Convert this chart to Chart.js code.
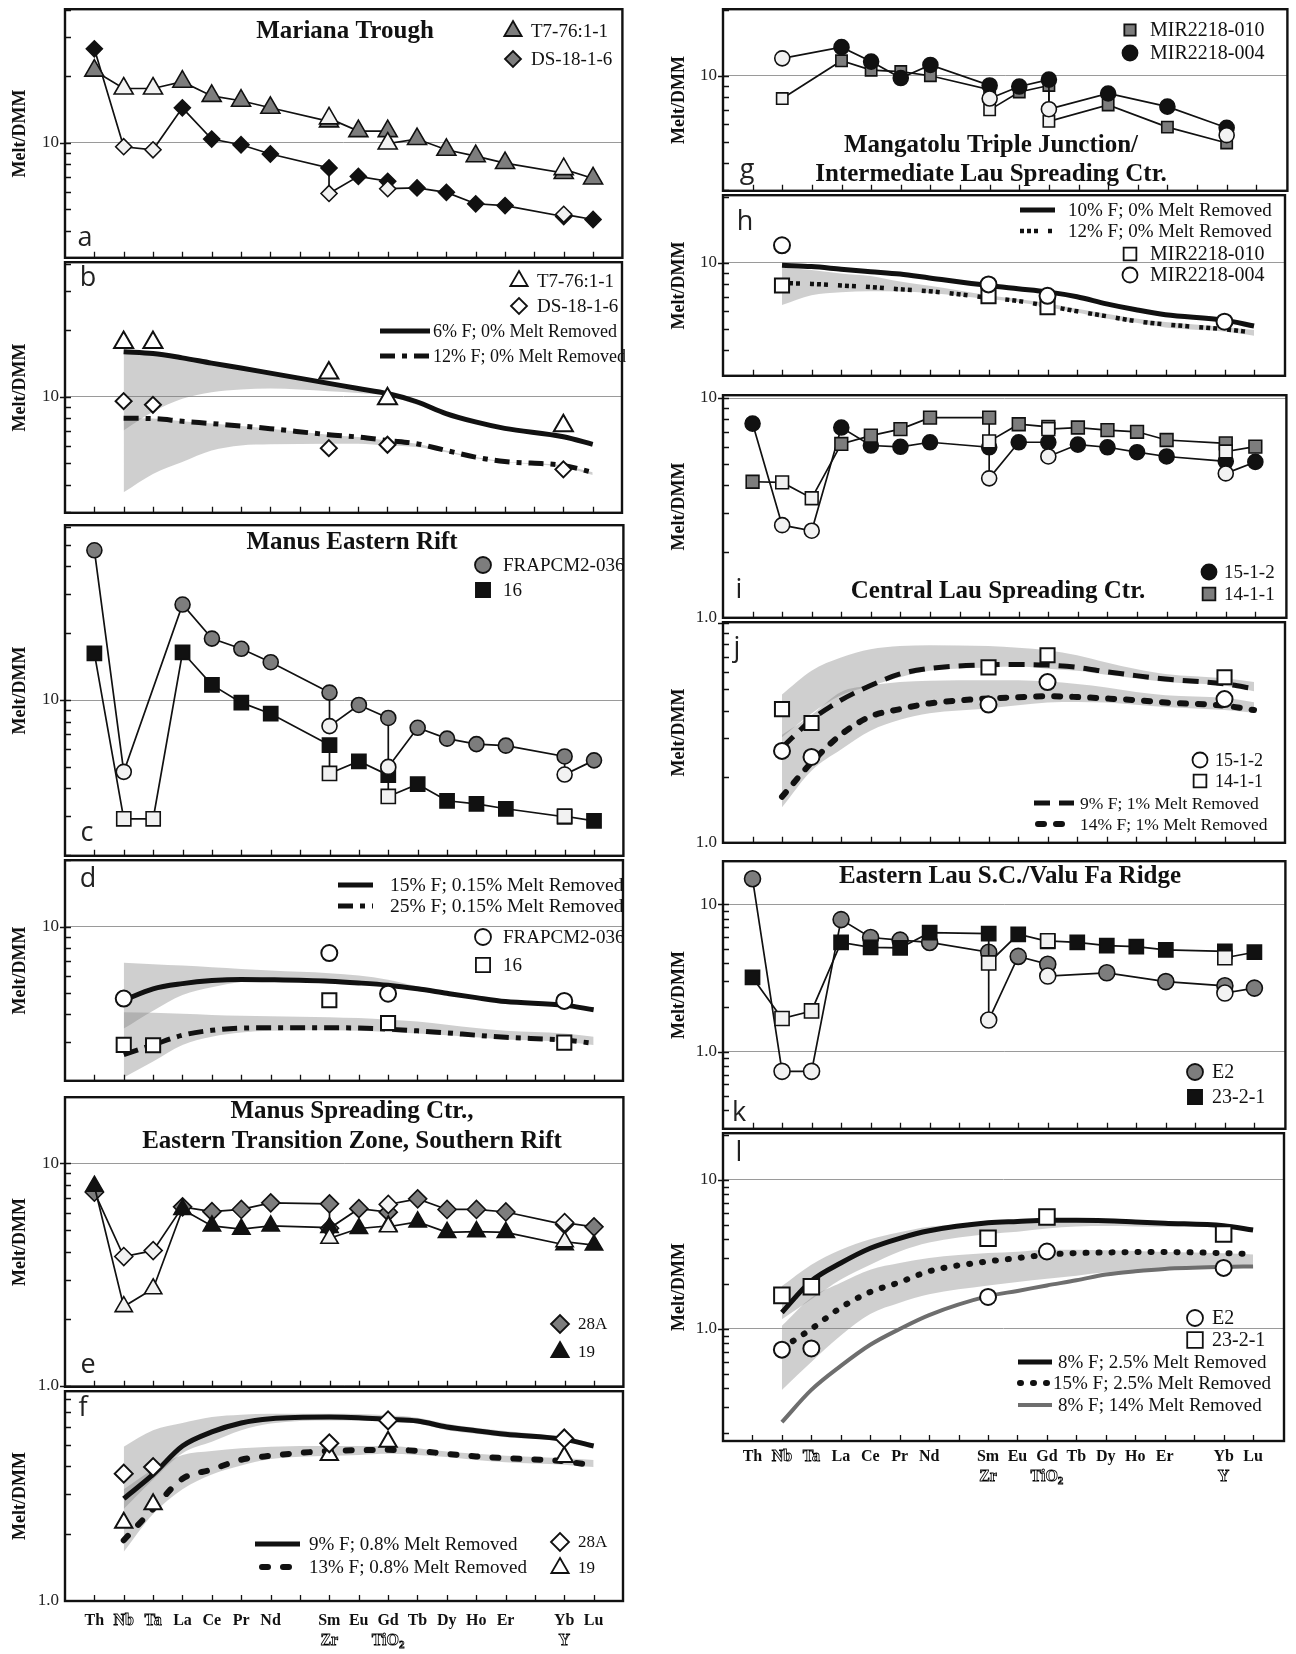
<!DOCTYPE html>
<html>
<head>
<meta charset="utf-8">
<script src="https://cdn.jsdelivr.net/npm/chart.js@4.4.1/dist/chart.umd.min.js"></script>
<style>
  html, body { margin: 0; padding: 0; background: #fff; }
  #page { position: relative; width: 1296px; height: 1654px; overflow: hidden; }
  #page canvas { position: absolute; }
</style>
</head>
<body>
<div id="page"></div>
<script>
// Axis categories (blank = spacer position)
const xCategories = ["Th","Nb","Ta","La","Ce","Pr","Nd","","Sm","Eu","Gd","Tb","Dy","Ho","Er","","Yb","Lu"];
const xSecondRow = { Sm: "Zr", Gd: "TiO2", Yb: "Y" };
const substituted = ["Nb","Ta","Zr","TiO2","Y"];

// Key orders used by the value arrays below
const sampleKeys = ["Th","Nb","Ta","La","Ce","Pr","Nd","Sm","Zr","Eu","Gd","TiO2","Tb","Dy","Ho","Er","Yb","Y","Lu"];
const modelKeys = ["Nb","Ta","La","Ce","Pr","Nd","Sm","Eu","Gd","Tb","Dy","Ho","Er","Yb","Lu"];
const subKeys = ["Nb","Ta","Zr","TiO2","Y"];

// a - Mariana Trough
const a_T7 = [21.2, 17.6, 17.6, 18.9, 16.3, 15.5, 14.4, 12.5, 12.9, 11.3, 11.3, 9.93, 10.4, 9.3, 8.7, 8.1, 7.3, 7.6, 6.9];
const a_DS = [26.6, 9.6, 9.3, 14.4, 10.4, 9.8, 8.9, 7.7, 5.9, 7.05, 6.7, 6.2, 6.25, 5.97, 5.3, 5.2, 4.64, 4.75, 4.5];
// b
const b_T7 = [17.6, 17.6, 12.8, 9.8, 7.4];
const b_DS = [9.56, 9.2, 5.86, 6.07, 4.7];
const b_F6 = [16.0, 15.7, 15.0, 14.2, 13.5, 12.8, 11.5, 10.9, 10.35, 9.5, 8.4, 7.7, 7.2, 6.6, 6.1];
const b_F12 = [8.0, 7.97, 7.75, 7.57, 7.38, 7.18, 6.74, 6.58, 6.35, 6.14, 5.72, 5.34, 5.1, 4.89, 4.56];
const b_band6Hi = [16.0, 15.7, 15.0, 14.2, 13.5, 12.8, 11.5, 10.9, 10.35, 9.5, 8.4, 7.7, 7.2, 6.6, 6.1];
const b_band6Lo = [7.05, 8.55, 9.8, 10.5, 10.8, 10.9, 10.6, 10.4, 10.1, 9.2, 8.26, 7.6, 7.1, 6.47, 6.0];
const b_band12Hi = [8.0, 7.97, 7.75, 7.57, 7.38, 7.18, 6.74, 6.58, 6.35, 6.14, 5.72, 5.34, 5.1, 4.89, 4.56];
const b_band12Lo = [3.7, 4.48, 5.07, 5.72, 6.03, 6.1, 6.14, 6.14, 6.03, 5.93, 5.62, 5.28, 5.07, 4.8, 4.43];
// c - Manus Eastern Rift
const c_FRAP = [47.2, 4.75, null, 26.9, 18.9, 17.0, 14.8, 10.8, 7.63, 9.5, 8.3, 5.0, 7.5, 6.7, 6.33, 6.23, 5.57, 4.62, 5.35];
const c_16 = [16.2, 2.92, 2.92, 16.4, 11.7, 9.73, 8.68, 6.27, 4.67, 5.3, 4.59, 3.68, 4.18, 3.52, 3.41, 3.24, 2.98, 3.0, 2.86];
// d
const d_FRAP = [4.72, null, 7.6, 4.97, 4.61];
const d_16 = [2.91, 2.9, 4.64, 3.66, 2.98];
const d_F15 = [4.64, 5.23, 5.52, 5.7, 5.77, 5.75, 5.66, 5.56, 5.43, 5.23, 4.99, 4.77, 4.58, 4.41, 4.2];
const d_F25 = [2.63, 2.91, 3.22, 3.39, 3.47, 3.48, 3.48, 3.47, 3.43, 3.37, 3.3, 3.22, 3.15, 3.06, 2.96];
const d_band15Hi = [6.87, 6.76, 6.67, 6.55, 6.44, 6.33, 6.16, 6.01, 5.75, 5.37, 5.07, 4.84, 4.65, 4.46, 4.28];
const d_band15Lo = [3.45, 4.16, 4.9, 5.32, 5.62, 5.69, 5.62, 5.5, 5.37, 5.18, 4.93, 4.72, 4.53, 4.37, 4.16];
const d_band25Hi = [4.09, 4.07, 4.03, 3.98, 3.95, 3.93, 3.89, 3.85, 3.79, 3.72, 3.59, 3.47, 3.37, 3.28, 3.17];
const d_band25Lo = [2.07, 2.45, 2.91, 3.17, 3.31, 3.37, 3.39, 3.37, 3.33, 3.28, 3.22, 3.15, 3.08, 3.01, 2.91];
// e - Manus Spreading Ctr.
const e_28A = [7.41, 3.81, 4.05, 6.37, 6.06, 6.2, 6.64, 6.57, 5.1, 6.25, 6.03, 6.53, 6.92, 6.2, 6.2, 6.04, 5.3, 5.41, 5.18];
const e_19 = [7.88, 2.27, 2.73, 6.2, 5.23, 5.06, 5.23, 5.14, 4.6, 5.09, 5.23, 5.18, 5.45, 4.89, 4.93, 4.89, 4.3, 4.44, 4.29];
// f
const f_28A = [3.71, 3.97, 5.07, 6.42, 5.33];
const f_19 = [2.24, 2.71, 4.5, 5.15, 4.4];
const f_F9 = [2.87, 3.68, 4.93, 5.7, 6.25, 6.53, 6.64, 6.6, 6.49, 6.38, 6.0, 5.77, 5.57, 5.28, 4.93];
const f_F13 = [1.87, 2.58, 3.52, 3.87, 4.28, 4.46, 4.69, 4.72, 4.74, 4.69, 4.55, 4.43, 4.35, 4.21, 4.03];
const f_band9Hi = [4.9, 5.8, 6.25, 6.64, 6.8, 6.87, 6.87, 6.85, 6.76, 6.6, 6.2, 5.95, 5.75, 5.39, 5.07];
const f_band9Lo = [2.58, 3.49, 4.58, 5.15, 5.8, 6.21, 6.42, 6.4, 6.35, 6.21, 5.8, 5.6, 5.4, 5.21, 4.9];
const f_band13Hi = [3.16, 3.87, 4.5, 4.69, 4.82, 4.9, 4.93, 4.93, 4.93, 4.82, 4.66, 4.55, 4.46, 4.35, 4.27];
const f_band13Lo = [1.66, 2.45, 3.16, 3.68, 4.03, 4.31, 4.46, 4.5, 4.55, 4.5, 4.4, 4.27, 4.17, 4.07, 3.97];
// g - Mangatolu Triple Junction
const g_010 = [null, 7.87, null, 11.7, 10.6, 10.45, 10.0, 8.64, 6.99, 8.43, 9.03, 6.2, null, 7.36, null, 5.83, 4.94, null, null];
const g_004 = [null, 12.0, null, 13.5, 11.6, 9.76, 11.2, 9.03, 7.87, 8.93, 9.6, 7.04, null, 8.3, null, 7.23, 5.79, 5.36, null];
// h
const h_010 = [7.87, null, 7.04, 6.27, null];
const h_004 = [12.0, null, 7.96, 7.06, 5.38];
const h_F10 = [9.73, 9.6, 9.34, 9.1, 8.87, 8.52, 7.87, 7.61, 7.36, 6.99, 6.49, 6.1, 5.79, 5.47, 5.14];
const h_F12 = [8.07, 8.0, 7.87, 7.74, 7.56, 7.41, 6.92, 6.69, 6.35, 6.0, 5.7, 5.41, 5.23, 4.97, 4.8];
const h_bandHi = [9.5, 9.25, 8.93, 8.69, 8.2, 7.85, 7.11, 6.83, 6.53, 6.16, 5.85, 5.56, 5.36, 5.09, 4.93];
const h_bandLo = [6.42, 7.11, 7.33, 7.41, 7.38, 7.28, 6.83, 6.6, 6.27, 5.93, 5.56, 5.32, 5.07, 4.85, 4.64];
// i - Central Lau Spreading Ctr.
const i_15 = [7.65, 2.64, 2.49, 7.34, 6.08, 6.0, 6.29, 5.97, 4.31, 6.29, 6.29, 5.42, 6.14, 5.97, 5.67, 5.42, 5.15, 4.54, 5.12];
const i_14 = [4.16, 4.13, 3.5, 6.18, 6.74, 7.22, 8.14, 8.14, 6.35, 7.6, 7.39, 7.22, 7.34, 7.14, 7.02, 6.44, 6.22, 5.71, 6.01];
// j
const j_15 = [2.62, 2.46, 4.26, 5.39, 4.51];
const j_14 = [4.06, 3.51, 6.29, 7.14, 5.67];
const j_F9 = [2.71, 3.63, 4.46, 5.2, 5.87, 6.22, 6.46, 6.48, 6.44, 6.29, 6.01, 5.77, 5.57, 5.29, 5.03];
const j_F14 = [1.62, 2.32, 3.11, 3.76, 4.06, 4.31, 4.54, 4.6, 4.65, 4.61, 4.54, 4.46, 4.35, 4.21, 4.02];
const j_band9Hi = [4.73, 6.07, 6.97, 7.6, 7.87, 7.94, 7.87, 7.73, 7.52, 7.14, 6.62, 6.18, 5.87, 5.61, 5.39];
const j_band9Lo = [3.02, 3.88, 4.7, 5.17, 5.67, 6.07, 6.29, 6.35, 6.2, 6.07, 5.82, 5.6, 5.4, 5.2, 4.9];
const j_band14Hi = [3.1, 3.82, 4.86, 5.2, 5.39, 5.47, 5.49, 5.49, 5.42, 5.29, 5.1, 4.86, 4.7, 4.57, 4.36];
const j_band14Lo = [1.45, 2.13, 2.66, 3.24, 3.63, 3.89, 4.09, 4.23, 4.35, 4.38, 4.35, 4.25, 4.15, 4.02, 3.91];
// k - Eastern Lau S.C./Valu Fa Ridge
const k_E2 = [14.9, 0.736, 0.736, 7.87, 5.95, 5.71, 5.51, 4.73, 1.64, 4.43, 3.92, 3.26, null, 3.43, null, 2.99, 2.8, 2.5, 2.7];
const k_23 = [3.19, 1.68, 1.89, 5.51, 5.1, 5.06, 6.42, 6.32, 4.0, 6.26, 5.6, 5.65, 5.51, 5.24, 5.16, 4.9, 4.8, 4.34, 4.73];
// l
const l_E2 = [0.726, 0.74, 1.64, 3.31, 2.57];
const l_23 = [1.68, 1.92, 4.06, 5.65, 4.34];
const l_F8 = [1.29, 2.1, 2.77, 3.48, 4.06, 4.56, 5.16, 5.27, 5.37, 5.37, 5.33, 5.23, 5.13, 4.93, 4.61];
const l_F15 = [0.744, 1.0, 1.39, 1.77, 2.06, 2.44, 2.84, 2.99, 3.15, 3.23, 3.26, 3.28, 3.28, 3.23, 3.18];
const l_F8m14 = [0.237, 0.39, 0.565, 0.783, 1.0, 1.24, 1.66, 1.8, 1.96, 2.12, 2.32, 2.44, 2.53, 2.61, 2.63];
const l_band8Hi = [1.94, 2.7, 3.4, 4.0, 4.45, 4.85, 5.1, 5.2, 5.3, 5.3, 5.25, 5.15, 5.05, 4.95, 4.8];
const l_band8Lo = [1.16, 1.58, 2.15, 2.7, 3.31, 3.8, 4.34, 4.5, 4.73, 4.88, 4.9, 4.88, 4.85, 4.8, 4.6];
const l_band15Hi = [1.05, 1.62, 2.04, 2.5, 2.77, 2.99, 3.23, 3.3, 3.4, 3.4, 3.37, 3.33, 3.28, 3.22, 3.16];
const l_band15Lo = [0.39, 0.6, 0.903, 1.26, 1.5, 1.71, 1.96, 2.07, 2.17, 2.28, 2.4, 2.47, 2.52, 2.6, 2.62];

// ---------- styling ----------
const SERIF = '"Liberation Serif", "DejaVu Serif", serif';
const GRAY = '#7d7d7d', BLACK = '#111', OPEN_LIGHT = '#f2f2f2', OPEN = '#ffffff';
const BAND = 'rgba(125,125,125,0.37)';
const DASH_DOT = [15, 7, 5, 7];

function xOf(key) {
  const parent = { Zr: "Sm", TiO2: "Gd", Y: "Yb" }[key] || key;
  return xCategories.indexOf(parent);
}
function pointsOf(keys, vals) {
  const pts = [];
  keys.forEach((k, i) => { if (vals[i] != null) pts.push({ x: xOf(k), y: vals[i], k: k }); });
  return pts;
}
// connected sample pattern (data panels)
function sampleSet(vals, shape, fill, r, order) {
  const pts = pointsOf(sampleKeys, vals);
  return {
    data: pts, order: order, showLine: true, borderColor: BLACK, borderWidth: 1.7, tension: 0,
    pointStyle: shape, pointRadius: r, pointHoverRadius: r, pointBorderWidth: 1.6, pointBorderColor: BLACK,
    pointBackgroundColor: pts.map(p => substituted.includes(p.k) ? OPEN_LIGHT : fill)
  };
}
// open markers only (model panels)
function markerSet(vals, shape, r, order) {
  return {
    data: pointsOf(subKeys, vals), order: order, showLine: false,
    pointStyle: shape, pointRadius: r, pointHoverRadius: r, pointBorderWidth: 2,
    pointBorderColor: BLACK, pointBackgroundColor: OPEN
  };
}
function modelLine(vals, width, dash, color, cap) {
  return {
    data: pointsOf(modelKeys, vals), order: 5, borderColor: color || BLACK, borderWidth: width,
    borderDash: dash || [], borderCapStyle: cap || 'butt', pointRadius: 0, cubicInterpolationMode: 'monotone'
  };
}
function band(hi, lo) {
  return [
    { data: pointsOf(modelKeys, hi), order: 10, borderWidth: 0, pointRadius: 0, fill: '+1',
      backgroundColor: BAND, cubicInterpolationMode: 'monotone' },
    { data: pointsOf(modelKeys, lo), order: 10, borderWidth: 0, pointRadius: 0, fill: false,
      cubicInterpolationMode: 'monotone' }
  ];
}

// ---------- layout ----------
const COLS = {
  L: { left: 0, boxLeft: 65, boxRight: 631, xMin: -1, xMax: 18, yLabelX: 20, rowY: [1621, 1641] },
  R: { left: 660, boxLeft: 723, boxRight: 1293, xMin: -1, xMax: 18.05, yLabelX: 679, rowY: [1457, 1477] }
};

const panels = [
  { id: 'a', col: 'L', top: 7, bottom: 260, yMin: 3.02, yMax: 40.2, yTicks: [10], letter: [85, 238],
    titles: [["Mariana Trough", 345, 32]],
    legend: [
      { shape: 'triangle', fill: GRAY, r: 10, x: 513, y: 31, tx: 531, text: 'T7-76:1-1', size: 19 },
      { shape: 'rectRot', fill: GRAY, r: 8, x: 513, y: 59, tx: 531, text: 'DS-18-1-6', size: 19 }
    ],
    datasets: () => [sampleSet(a_T7, 'triangle', GRAY, 11, 1), sampleSet(a_DS, 'rectRot', BLACK, 8, 2)] },
  { id: 'b', col: 'L', top: 260, bottom: 515, yMin: 2.99, yMax: 40.6, yTicks: [10], letter: [88, 278],
    titles: [],
    legend: [
      { shape: 'triangle', fill: OPEN, r: 10, x: 519, y: 281, tx: 537, text: 'T7-76:1-1', size: 19 },
      { shape: 'rectRot', fill: OPEN, r: 8, x: 519, y: 306, tx: 537, text: 'DS-18-1-6', size: 19 },
      { line: [], width: 5, x1: 380, x2: 430, y: 331, tx: 433, text: '6% F; 0% Melt Removed', size: 18 },
      { line: DASH_DOT, width: 5, x1: 380, x2: 430, y: 356, tx: 433, text: '12% F; 0% Melt Removed', size: 18 }
    ],
    datasets: () => [markerSet(b_T7, 'triangle', 11, 0), markerSet(b_DS, 'rectRot', 8, 0),
      modelLine(b_F6, 5), modelLine(b_F12, 5, DASH_DOT),
      ...band(b_band6Hi, b_band6Lo), ...band(b_band12Hi, b_band12Lo)] },
  { id: 'c', col: 'L', top: 523, bottom: 858, yMin: 1.99, yMax: 61.2, yTicks: [10], letter: [87, 833],
    titles: [["Manus Eastern Rift", 352, 543]],
    legend: [
      { shape: 'circle', fill: GRAY, r: 8, x: 483, y: 565, tx: 503, text: 'FRAPCM2-036', size: 19 },
      { shape: 'rect', fill: BLACK, r: 10, x: 483, y: 590, tx: 503, text: '16', size: 19 }
    ],
    datasets: () => [sampleSet(c_FRAP, 'circle', GRAY, 7.5, 1), sampleSet(c_16, 'rect', BLACK, 10, 2)] },
  { id: 'd', col: 'L', top: 858, bottom: 1083, yMin: 2.0, yMax: 20.05, yTicks: [10], letter: [88, 879],
    titles: [],
    legend: [
      { line: [], width: 5, x1: 338, x2: 373, y: 885, tx: 390, text: '15% F; 0.15% Melt Removed', size: 19.5 },
      { line: DASH_DOT, width: 5, x1: 338, x2: 373, y: 906, tx: 390, text: '25% F; 0.15% Melt Removed', size: 19.5 },
      { shape: 'circle', fill: OPEN, r: 8, x: 483, y: 937, tx: 503, text: 'FRAPCM2-036', size: 19 },
      { shape: 'rect', fill: OPEN, r: 10, x: 483, y: 965, tx: 503, text: '16', size: 19 }
    ],
    datasets: () => [markerSet(d_FRAP, 'circle', 8, 0), markerSet(d_16, 'rect', 10, 0),
      modelLine(d_F15, 5), modelLine(d_F25, 5, DASH_DOT),
      ...band(d_band15Hi, d_band15Lo), ...band(d_band25Hi, d_band25Lo)] },
  { id: 'e', col: 'L', top: 1095, bottom: 1389, yMin: 0.99, yMax: 19.8, yTicks: [1, 10], letter: [88, 1365],
    titles: [["Manus Spreading Ctr.,", 352, 1112], ["Eastern Transition Zone, Southern Rift", 352, 1142]],
    legend: [
      { shape: 'rectRot', fill: GRAY, r: 9, x: 560, y: 1324, tx: 578, text: '28A', size: 17 },
      { shape: 'triangle', fill: BLACK, r: 10, x: 560, y: 1352, tx: 578, text: '19', size: 17 }
    ],
    datasets: () => [sampleSet(e_19, 'triangle', BLACK, 10, 1), sampleSet(e_28A, 'rectRot', GRAY, 9, 2)] },
  { id: 'f', col: 'L', top: 1389, bottom: 1601, yMin: 1.0, yMax: 8.67, yTicks: [1], letter: [83, 1408], showX: true,
    titles: [],
    legend: [
      { line: [], width: 5, x1: 255, x2: 300, y: 1544, tx: 309, text: '9% F; 0.8% Melt Removed', size: 19 },
      { line: [6, 15], cap: 'round', width: 6, x1: 262, x2: 300, y: 1567, tx: 309, text: '13% F; 0.8% Melt Removed', size: 19 },
      { shape: 'rectRot', fill: OPEN, r: 9, x: 560, y: 1542, tx: 578, text: '28A', size: 17 },
      { shape: 'triangle', fill: OPEN, r: 10, x: 560, y: 1568, tx: 578, text: '19', size: 17 }
    ],
    datasets: () => [markerSet(f_28A, 'rectRot', 9, 0), markerSet(f_19, 'triangle', 10, 0),
      modelLine(f_F9, 5), modelLine(f_F13, 6, [6, 15], BLACK, 'round'),
      ...band(f_band9Hi, f_band9Lo), ...band(f_band13Hi, f_band13Lo)] },

  { id: 'g', col: 'R', top: 7, bottom: 193, yMin: 2.99, yMax: 20.1, yTicks: [10], letter: [747, 170],
    titles: [["Mangatolu Triple Junction/", 991, 146], ["Intermediate Lau Spreading Ctr.", 991, 175]],
    legend: [
      { shape: 'rect', fill: GRAY, r: 8, x: 1130, y: 30, tx: 1150, text: 'MIR2218-010', size: 20 },
      { shape: 'circle', fill: BLACK, r: 7.5, x: 1130, y: 53, tx: 1150, text: 'MIR2218-004', size: 20 }
    ],
    datasets: () => [sampleSet(g_004, 'circle', BLACK, 7.5, 1), sampleSet(g_010, 'rect', GRAY, 8, 2)] },
  { id: 'h', col: 'R', top: 193, bottom: 378, yMin: 3.05, yMax: 20.3, yTicks: [10], letter: [745, 222],
    titles: [],
    legend: [
      { line: [], width: 5, x1: 1020, x2: 1055, y: 210, tx: 1068, text: '10% F; 0% Melt Removed', size: 19 },
      { line: [4, 3, 4, 3, 4, 10], width: 4.5, x1: 1020, x2: 1055, y: 231, tx: 1068, text: '12% F; 0% Melt Removed', size: 19 },
      { shape: 'rect', fill: OPEN, r: 9, x: 1130, y: 254, tx: 1150, text: 'MIR2218-010', size: 20 },
      { shape: 'circle', fill: OPEN, r: 7.5, x: 1130, y: 275, tx: 1150, text: 'MIR2218-004', size: 20 }
    ],
    datasets: () => [markerSet(h_004, 'circle', 8, 0), markerSet(h_010, 'rect', 10, 0),
      modelLine(h_F10, 5), modelLine(h_F12, 4.5, [4, 3, 4, 3, 4, 10]),
      ...band(h_bandHi, h_bandLo)] },
  { id: 'i', col: 'R', top: 393, bottom: 620, yMin: 1.0, yMax: 10.3, yTicks: [1, 10], letter: [739, 590],
    titles: [["Central Lau Spreading Ctr.", 998, 592]],
    legend: [
      { shape: 'circle', fill: BLACK, r: 7.5, x: 1209, y: 572, tx: 1224, text: '15-1-2', size: 19 },
      { shape: 'rect', fill: GRAY, r: 9, x: 1209, y: 594, tx: 1224, text: '14-1-1', size: 19 }
    ],
    datasets: () => [sampleSet(i_14, 'rect', GRAY, 9, 1), sampleSet(i_15, 'circle', BLACK, 7.5, 2)] },
  { id: 'j', col: 'R', top: 620, bottom: 845, yMin: 1.0, yMax: 10.1, yTicks: [1], letter: [737, 648],
    titles: [],
    legend: [
      { shape: 'circle', fill: OPEN, r: 7.5, x: 1200, y: 760, tx: 1215, text: '15-1-2', size: 18 },
      { shape: 'rect', fill: OPEN, r: 9, x: 1200, y: 781, tx: 1215, text: '14-1-1', size: 18 },
      { line: [16, 9], width: 5, x1: 1034, x2: 1074, y: 803, tx: 1080, text: '9% F; 1% Melt Removed', size: 17.5 },
      { line: [6, 12], cap: 'round', width: 6, x1: 1038, x2: 1074, y: 824, tx: 1080, text: '14% F; 1% Melt Removed', size: 17.5 }
    ],
    datasets: () => [markerSet(j_15, 'circle', 8, 0), markerSet(j_14, 'rect', 10, 0),
      modelLine(j_F9, 5, [16, 9]), modelLine(j_F14, 6, [6, 12], BLACK, 'round'),
      ...band(j_band9Hi, j_band9Lo), ...band(j_band14Hi, j_band14Lo)] },
  { id: 'k', col: 'R', top: 859, bottom: 1131, yMin: 0.302, yMax: 19.6, yTicks: [1, 10], letter: [739, 1113],
    titles: [["Eastern Lau S.C./Valu Fa Ridge", 1010, 877]],
    legend: [
      { shape: 'circle', fill: GRAY, r: 8, x: 1195, y: 1072, tx: 1212, text: 'E2', size: 20 },
      { shape: 'rect', fill: BLACK, r: 10, x: 1195, y: 1097, tx: 1212, text: '23-2-1', size: 20 }
    ],
    datasets: () => [sampleSet(k_23, 'rect', BLACK, 10, 1), sampleSet(k_E2, 'circle', GRAY, 8, 2)] },
  { id: 'l', col: 'R', top: 1131, bottom: 1441, yMin: 0.177, yMax: 20.6, yTicks: [1, 10], letter: [739, 1153], showX: true,
    titles: [],
    legend: [
      { shape: 'circle', fill: OPEN, r: 8, x: 1195, y: 1318, tx: 1212, text: 'E2', size: 20 },
      { shape: 'rect', fill: OPEN, r: 11, x: 1195, y: 1340, tx: 1212, text: '23-2-1', size: 20 },
      { line: [], width: 5, x1: 1018, x2: 1052, y: 1362, tx: 1058, text: '8% F; 2.5% Melt Removed', size: 19 },
      { line: [1, 12], cap: 'round', width: 6, x1: 1020, x2: 1050, y: 1383, tx: 1053, text: '15% F; 2.5% Melt Removed', size: 19 },
      { line: [], width: 4, color: '#6e6e6e', x1: 1018, x2: 1052, y: 1405, tx: 1058, text: '8% F; 14% Melt Removed', size: 19 }
    ],
    datasets: () => [markerSet(l_E2, 'circle', 8, 0), markerSet(l_23, 'rect', 11, 0),
      modelLine(l_F8, 5), modelLine(l_F15, 6, [1, 12], BLACK, 'round'), modelLine(l_F8m14, 4, [], '#6e6e6e'),
      ...band(l_band8Hi, l_band8Lo), ...band(l_band15Hi, l_band15Lo)] }
];

// ---------- drawing helpers ----------
function drawMarker(ctx, shape, x, y, r, fill) {
  ctx.beginPath();
  if (shape === 'circle') ctx.arc(x, y, r, 0, Math.PI * 2);
  else if (shape === 'rect') { const s = r * Math.SQRT1_2; ctx.rect(x - s, y - s, 2 * s, 2 * s); }
  else if (shape === 'rectRot') { ctx.moveTo(x - r, y); ctx.lineTo(x, y - r); ctx.lineTo(x + r, y); ctx.lineTo(x, y + r); ctx.closePath(); }
  else if (shape === 'triangle') {
    ctx.moveTo(x, y - r); ctx.lineTo(x + r * 0.866, y + r * 0.5); ctx.lineTo(x - r * 0.866, y + r * 0.5); ctx.closePath();
  }
  ctx.fillStyle = fill; ctx.fill();
  ctx.lineWidth = 1.8; ctx.strokeStyle = BLACK; ctx.setLineDash([]); ctx.stroke();
}
function paintText(ctx, text, x, y, size, outline) {
  ctx.font = 'bold ' + size + 'px ' + SERIF;
  if (outline) {
    ctx.fillStyle = '#fff'; ctx.fillText(text, x, y);
    ctx.strokeStyle = '#000'; ctx.lineWidth = 0.8; ctx.strokeText(text, x, y);
  } else { ctx.fillStyle = BLACK; ctx.fillText(text, x, y); }
}
function drawAxisLabel(ctx, text, x, y, outline) {
  const main = text === 'TiO2' ? 'TiO' : text;
  ctx.font = 'bold 16px ' + SERIF;
  const w1 = ctx.measureText(main).width;
  let w2 = 0;
  if (text === 'TiO2') { ctx.font = 'bold 11px ' + SERIF; w2 = ctx.measureText('2').width; }
  const x0 = x - (w1 + w2) / 2;
  ctx.textAlign = 'left'; ctx.textBaseline = 'middle';
  paintText(ctx, main, x0, y, 16, outline);
  if (w2) paintText(ctx, '2', x0 + w1, y + 4, 11, outline);
}

const panelInfo = {};
const decorPlugin = {
  id: 'decor',
  afterDraw(chart) {
    const p = panelInfo[chart.canvas.id];
    const col = COLS[p.col];
    const ctx = chart.ctx, a = chart.chartArea, xs = chart.scales.x, ys = chart.scales.y;
    const ox = col.left, oy = p.oy;
    ctx.save();
    // tick marks (inside the frame)
    ctx.strokeStyle = BLACK; ctx.lineWidth = 1.3; ctx.setLineDash([]);
    ctx.beginPath();
    for (let i = 0; i < xCategories.length; i++) {
      const x = Math.round(xs.getPixelForValue(i)) + 0.5;
      ctx.moveTo(x, a.bottom); ctx.lineTo(x, a.bottom - 6);
    }
    const e0 = Math.floor(Math.log10(ys.min)), e1 = Math.ceil(Math.log10(ys.max));
    for (let e = e0; e <= e1; e++) {
      for (let k = 1; k < 10; k++) {
        const v = k * Math.pow(10, e);
        if (v <= ys.min * 1.002 || v >= ys.max * 0.998) continue;
        const y = Math.round(ys.getPixelForValue(v)) + 0.5;
        ctx.moveTo(a.left - (k === 1 ? 5 : 0), y); ctx.lineTo(a.left + 6, y);
      }
    }
    ctx.stroke();
    // frame
    ctx.lineWidth = 2.4;
    ctx.strokeRect(a.left, a.top, a.right - a.left, a.bottom - a.top);
    // y title
    ctx.save();
    ctx.translate(col.yLabelX - ox, (a.top + a.bottom) / 2);
    ctx.rotate(-Math.PI / 2);
    ctx.font = 'bold 18px ' + SERIF; ctx.fillStyle = BLACK;
    ctx.textAlign = 'center'; ctx.textBaseline = 'middle';
    ctx.fillText('Melt/DMM', 0, 0);
    ctx.restore();
    // titles
    ctx.font = 'bold 25px ' + SERIF; ctx.fillStyle = BLACK;
    ctx.textAlign = 'center'; ctx.textBaseline = 'middle';
    p.titles.forEach(t => ctx.fillText(t[0], t[1] - ox, t[2] - oy));
    // legend
    p.legend.forEach(it => {
      if (it.shape) {
        drawMarker(ctx, it.shape, it.x - ox, it.y - oy, it.r, it.fill);
      } else {
        ctx.beginPath();
        ctx.setLineDash(it.line); ctx.lineCap = it.cap || 'butt';
        ctx.lineWidth = it.width; ctx.strokeStyle = it.color || BLACK;
        ctx.moveTo(it.x1 - ox, it.y - oy); ctx.lineTo(it.x2 - ox, it.y - oy); ctx.stroke();
        ctx.setLineDash([]); ctx.lineCap = 'butt';
      }
      ctx.font = it.size + 'px ' + SERIF; ctx.fillStyle = BLACK;
      ctx.textAlign = 'left'; ctx.textBaseline = 'middle';
      ctx.fillText(it.text, it.tx - ox, it.y - oy + 1);
    });
    // panel letter
    ctx.font = '27px "Open Sans", "DejaVu Sans", sans-serif'; ctx.fillStyle = '#222';
    ctx.textAlign = 'center'; ctx.textBaseline = 'middle';
    ctx.fillText(p.id, p.letter[0] - ox, p.letter[1] - oy);
    // element labels under the bottom panels
    if (p.showX) {
      xCategories.forEach((lab, i) => {
        if (!lab) return;
        const x = xs.getPixelForValue(i);
        drawAxisLabel(ctx, lab, x, col.rowY[0] - oy, substituted.includes(lab));
        if (xSecondRow[lab]) drawAxisLabel(ctx, xSecondRow[lab], x, col.rowY[1] - oy, true);
      });
    }
    ctx.restore();
  }
};

// ---------- build charts ----------
const page = document.getElementById('page');
panels.forEach(p => {
  const col = COLS[p.col];
  const padT = 14, padB = p.showX ? 64 : 14;
  const canvas = document.createElement('canvas');
  canvas.id = 'panel-' + p.id;
  const w = col.boxRight + 4 - col.left, h = p.bottom - p.top + padT + padB;
  canvas.width = w; canvas.height = h;
  canvas.style.left = col.left + 'px'; canvas.style.top = (p.top - padT) + 'px';
  canvas.style.width = w + 'px'; canvas.style.height = h + 'px';
  page.appendChild(canvas);
  p.oy = p.top - padT;
  panelInfo[canvas.id] = p;

  new Chart(canvas, {
    type: 'line',
    data: { datasets: p.datasets() },
    options: {
      responsive: false, animation: false, events: [],
      layout: { padding: { left: 0, right: 4, top: padT, bottom: padB } },
      plugins: { legend: { display: false }, tooltip: { enabled: false } },
      scales: {
        x: { type: 'linear', display: false, min: col.xMin, max: col.xMax },
        y: {
          type: 'logarithmic', min: p.yMin, max: p.yMax,
          afterBuildTicks: ax => { ax.ticks = p.yTicks.map(v => ({ value: v })); },
          afterFit: ax => { ax.width = col.boxLeft - col.left; },
          border: { display: false },
          grid: { color: '#9a9a9a', lineWidth: 1, drawTicks: false },
          ticks: {
            autoSkip: false, padding: 6, color: '#222',
            font: { family: SERIF, size: 17 },
            callback: v => (v >= 10 ? '10' : '1.0')
          }
        }
      }
    },
    plugins: [decorPlugin]
  });
});
</script>
</body>
</html>
